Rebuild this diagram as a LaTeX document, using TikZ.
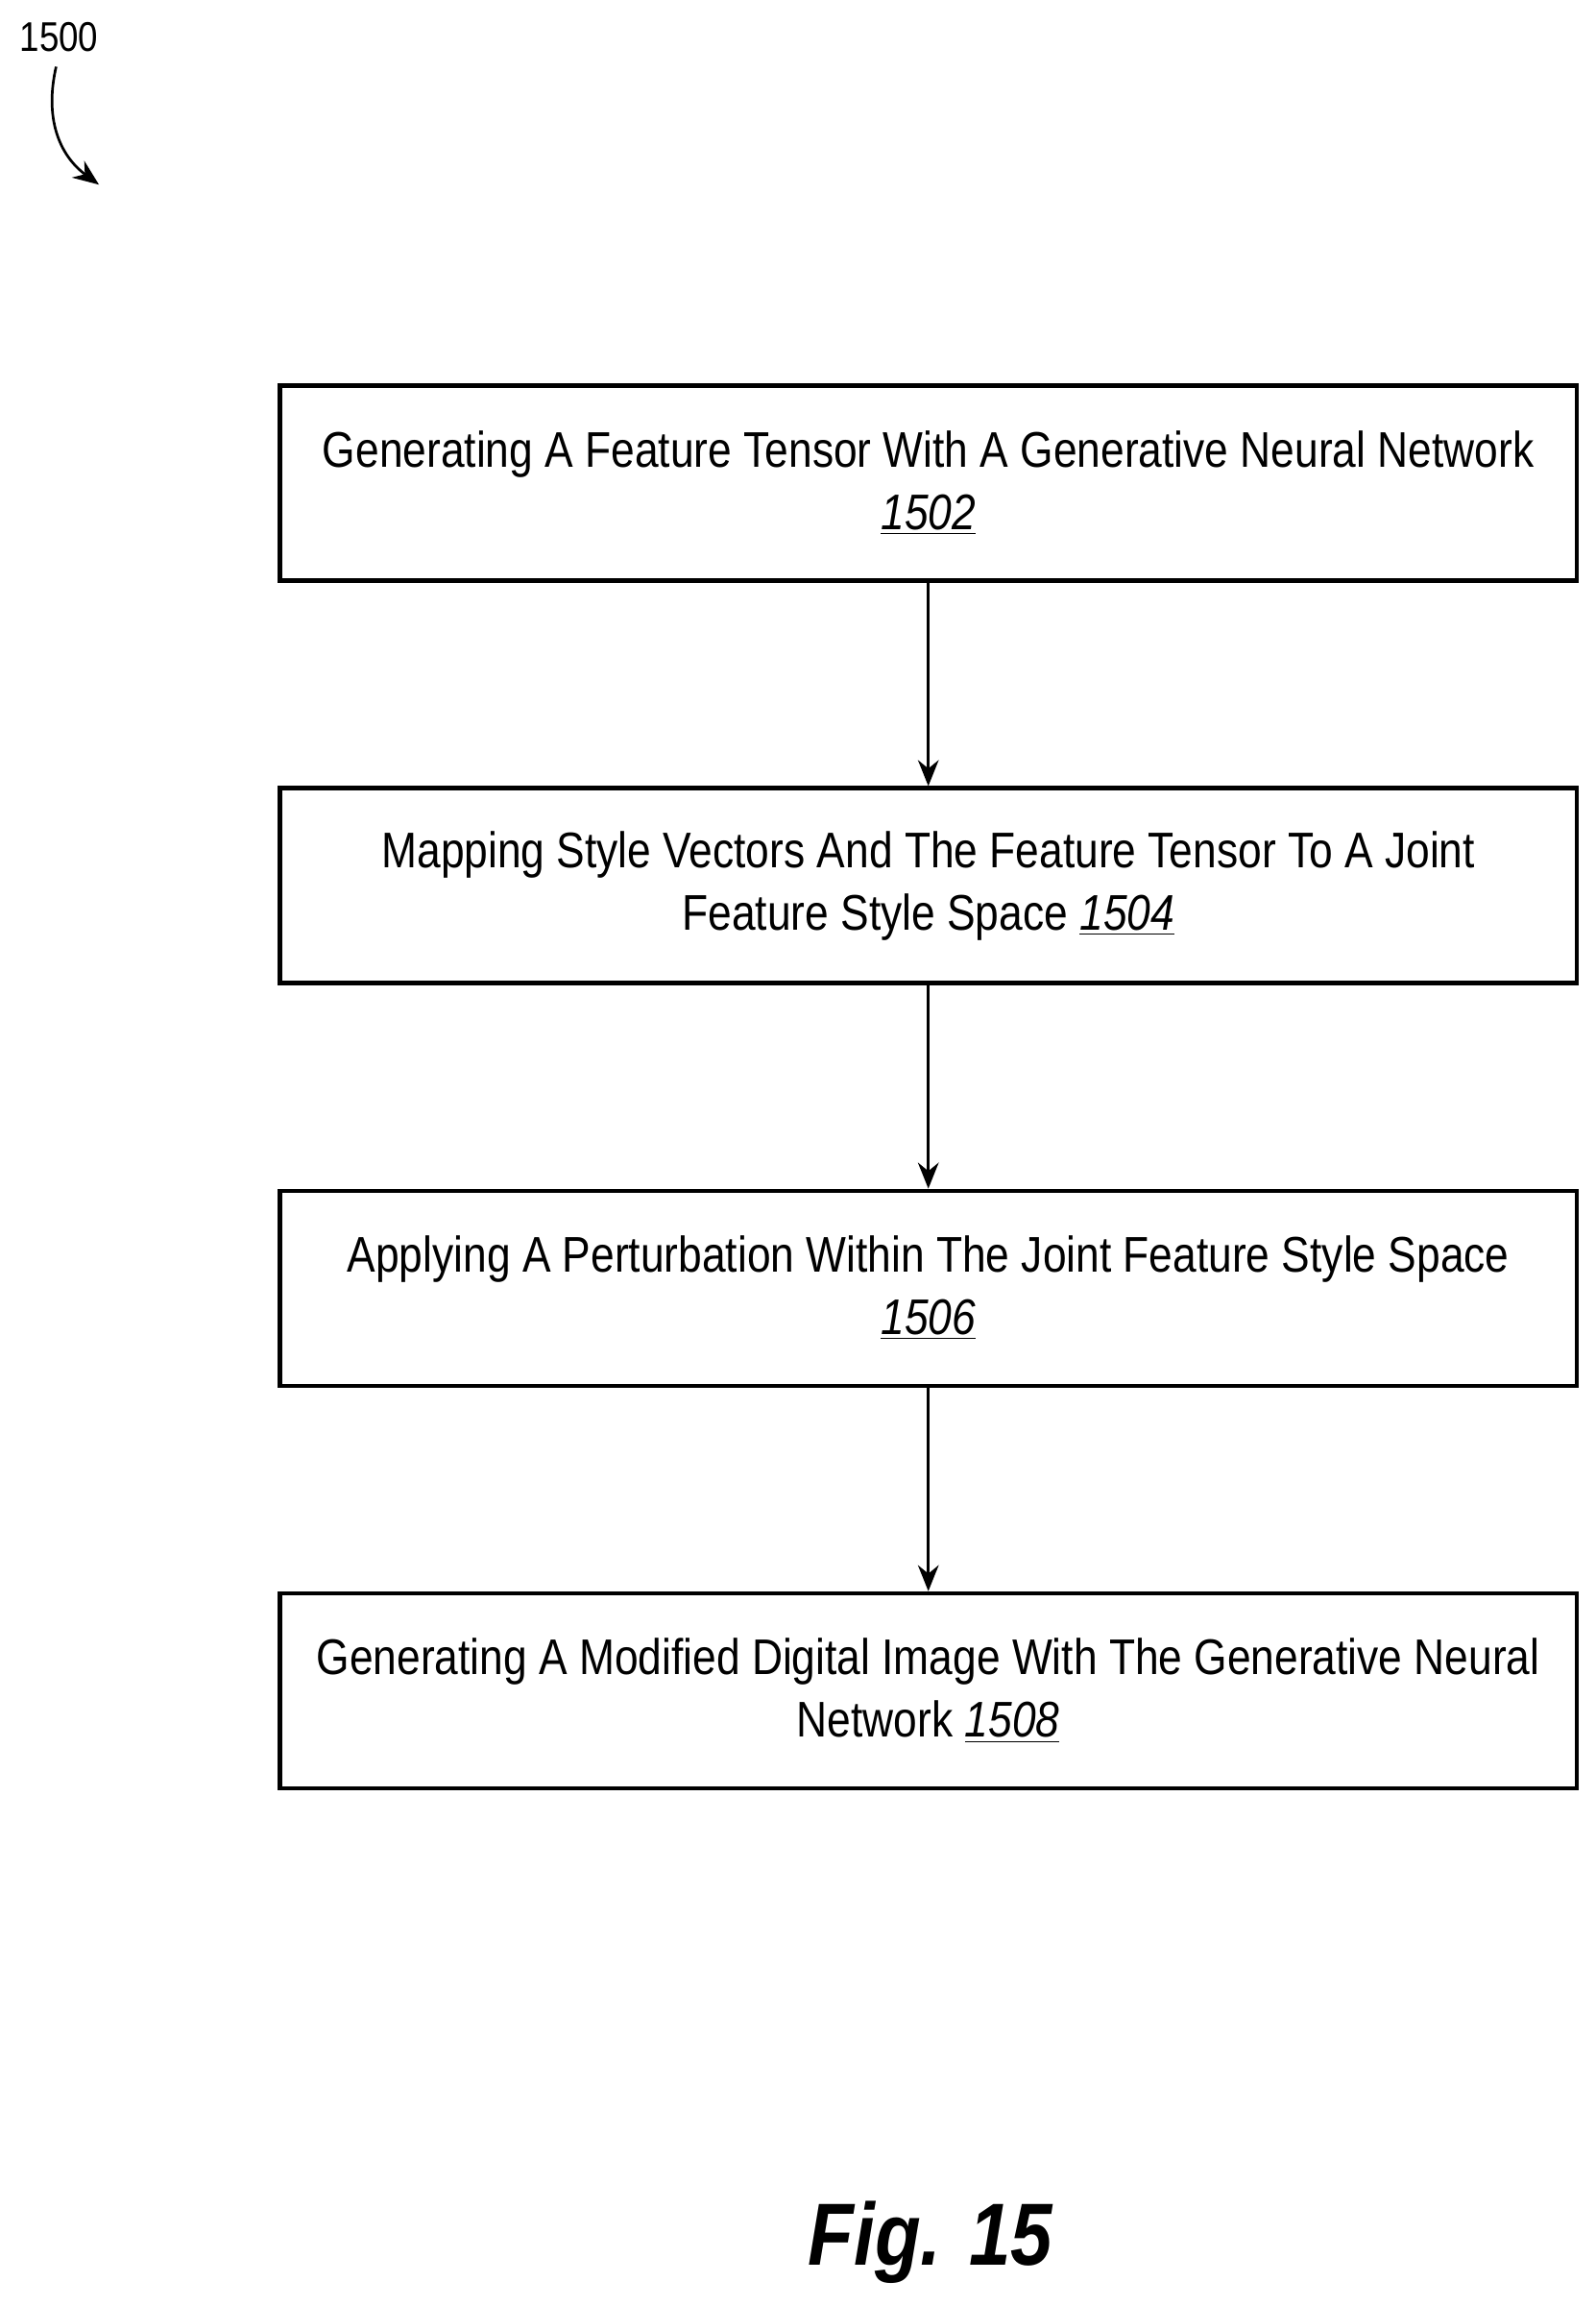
\documentclass[tikz,border=0pt]{standalone}
\usepackage{fontspec}
\setmainfont{Liberation Sans}[FakeStretch=0.85]
\usetikzlibrary{arrows.meta}
\begin{document}
\begin{tikzpicture}[x=0.02cm,y=-0.02cm,
  box/.style={draw,line width=1.6pt,minimum width=878*0.02cm,minimum height=132*0.02cm,align=center,font=\fontsize{19.3}{24}\selectfont,inner sep=0pt},
  arr/.style={-{Stealth[length=10pt,width=8pt]},line width=1pt}]
\useasboundingbox (0,0) rectangle (1080,1561);
\node[box] (b1) at (628.5,327) {Generating A Feature Tensor With A Generative Neural Network\\\underline{\itshape 1502}};
\node[box] (b2) at (628.5,599.5) {Mapping Style Vectors And The Feature Tensor To A Joint\\Feature Style Space \underline{\itshape 1504}};
\node[box] (b3) at (628.5,872) {Applying A Perturbation Within The Joint Feature Style Space\\\underline{\itshape 1506}};
\node[box] (b4) at (628.5,1144.5) {Generating A Modified Digital Image With The Generative Neural\\Network \underline{\itshape 1508}};
\draw[arr] (b1) -- (b2);
\draw[arr] (b2) -- (b3);
\draw[arr] (b3) -- (b4);
\node[font=\fontsize{16}{18}\selectfont] (lbl) at (40,25) {1500};
\coordinate (tip) at (67,125);
\draw[arr] (lbl.south) ++(-2,4) .. controls (30,80) and (40,105) .. (tip);
\node[font=\fontsize{34}{40}\selectfont\bfseries\itshape] (fig) at (630,1518) {Fig. 15};
\end{tikzpicture}
\end{document}
